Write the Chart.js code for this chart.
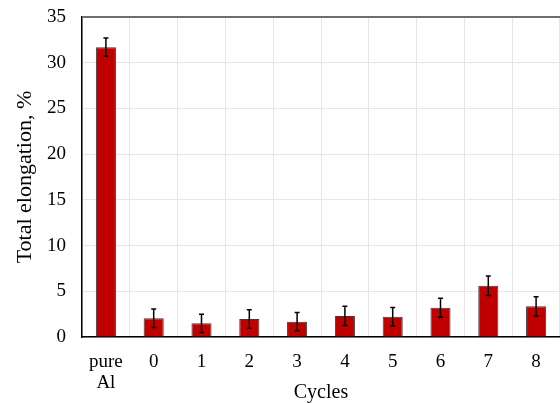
<!DOCTYPE html>
<html>
<head>
<meta charset="utf-8">
<script src="https://cdn.jsdelivr.net/npm/chart.js@4/dist/chart.umd.min.js"></script>
<style>
  html, body { margin: 0; padding: 0; background: #fff; overflow: hidden; }
  #wrap { width: 560px; height: 403px; }
</style>
</head>
<body>
<div id="wrap"><canvas id="chart" width="560" height="403"></canvas></div>
<script>
// data
const categories = [['pure', 'Al'], '0', '1', '2', '3', '4', '5', '6', '7', '8'];
const elongation = [31.7, 2.05, 1.5, 1.97, 1.68, 2.3, 2.22, 3.2, 5.6, 3.35];
const elongationErr = [1.0, 1.0, 1.0, 1.0, 1.0, 1.05, 1.02, 1.05, 1.07, 1.05];
const yTicks = [0, 5, 10, 15, 20, 25, 30, 35];

const serif = "'Liberation Serif', 'Times New Roman', serif";

// error bars + top frame line
const errorBars = {
    id: 'errorBars',
    afterDatasetsDraw(chart) {
        const ctx = chart.ctx;
        const y = chart.scales.y;
        const meta = chart.getDatasetMeta(0);
        ctx.save();
        ctx.strokeStyle = '#000';
        ctx.lineWidth = 1.5;
        meta.data.forEach((bar, i) => {
            const v = elongation[i], e = elongationErr[i];
            const yTop = y.getPixelForValue(v + e);
            const yBot = y.getPixelForValue(v - e);
            ctx.beginPath();
            ctx.moveTo(bar.x, yTop);
            ctx.lineTo(bar.x, yBot);
            ctx.moveTo(bar.x - 2.5, yTop);
            ctx.lineTo(bar.x + 2.5, yTop);
            ctx.moveTo(bar.x - 2.5, yBot);
            ctx.lineTo(bar.x + 2.5, yBot);
            ctx.stroke();
        });
        const a = chart.chartArea;
        ctx.strokeStyle = '#6e6e6e';
        ctx.lineWidth = 2;
        ctx.beginPath();
        ctx.moveTo(a.left, a.top);
        ctx.lineTo(a.right, a.top);
        ctx.stroke();
        ctx.restore();
    }
};

new Chart(document.getElementById('chart'), {
    type: 'bar',
    data: {
        labels: categories,
        datasets: [{
            data: elongation,
            backgroundColor: '#c00000',
            borderColor: '#3a3a3a',
            borderWidth: 1,
            categoryPercentage: 1,
            barPercentage: 0.42
        }]
    },
    options: {
        responsive: false,
        animation: false,
        layout: { padding: { top: 17, right: 0, left: 0, bottom: 0 } },
        plugins: {
            legend: { display: false },
            tooltip: { enabled: false }
        },
        scales: {
            x: {
                grid: { color: '#e6e6e6', drawTicks: false },
                border: { color: '#000', width: 1.5 },
                ticks: { color: '#000', font: { family: serif, size: 19, lineHeight: 1.1 }, padding: 15, maxRotation: 0 },
                title: { display: true, text: 'Cycles', color: '#000', font: { family: serif, size: 20 }, padding: { top: 0, bottom: -2 } },
                afterFit: (s) => { s.height = 66; s.paddingLeft = 0; s.paddingRight = 0; }
            },
            y: {
                min: 0,
                max: 35,
                afterBuildTicks: (s) => { s.ticks = yTicks.map(v => ({ value: v })); },
                grid: { color: '#e6e6e6', drawTicks: false },
                border: { color: '#000', width: 1.5 },
                ticks: { color: '#000', font: { family: serif, size: 19 }, padding: 16 },
                title: { display: true, text: 'Total elongation, %', color: '#000', font: { family: serif, size: 22 }, padding: { top: 12, bottom: 0 } },
                afterFit: (s) => { s.width = 82; s.paddingTop = 0; s.paddingBottom = 0; }
            }
        }
    },
    plugins: [errorBars]
});
</script>
</body>
</html>
